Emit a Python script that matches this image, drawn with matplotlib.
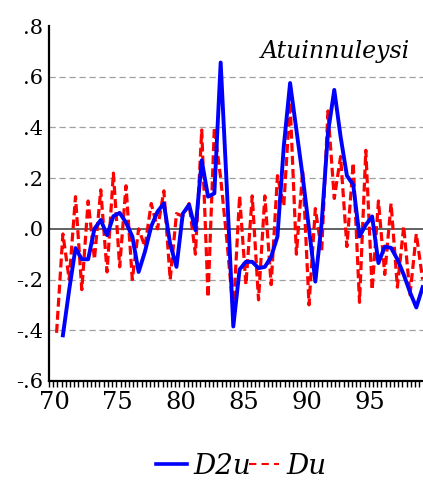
import matplotlib
matplotlib.use("Agg")
import matplotlib.pyplot as plt
from matplotlib.ticker import FixedLocator
from matplotlib.lines import Line2D

# half-yearly observations starting 1970
du_start = 1  # index of first Du observation (k), x = 70 + k/2
du = [-0.41, -0.02, -0.20, 0.127, -0.24, 0.11, -0.12, 0.154, -0.17, 0.22,
      -0.15, 0.17, -0.20, 0.00, -0.07, 0.10, 0.00, 0.15, -0.20, 0.06,
      0.05, 0.10, -0.10, 0.39, -0.27, 0.40, 0.20, -0.05, -0.33, 0.13,
      -0.22, 0.13, -0.28, 0.13, -0.22, 0.21, 0.09, 0.50, -0.10, 0.23,
      -0.30, 0.08, -0.09, 0.465, 0.12, 0.285, -0.07, 0.26, -0.29, 0.31,
      -0.24, 0.11, -0.18, 0.10, -0.23, 0.01, -0.26, -0.02, -0.20]
d2u_start = 2
d2u = [-0.42, -0.24, -0.076, -0.12, -0.12, 0.00, 0.035, -0.025, 0.05, 0.063,
       0.025, -0.03, -0.17, -0.09, 0.01, 0.068, 0.10, -0.06, -0.15, 0.06,
       0.095, -0.005, 0.27, 0.127, 0.14, 0.656, 0.15, -0.385, -0.16, -0.13,
       -0.13, -0.155, -0.15, -0.11, -0.03, 0.325, 0.575, 0.39, 0.206, 0.00,
       -0.208, 0.022, 0.378, 0.548, 0.364, 0.21, 0.174, -0.03, 0.016, 0.049,
       -0.135, -0.07, -0.075, -0.12, -0.18, -0.25, -0.31, -0.23]
year_labels = ["70", "75", "80", "85", "90", "95"]
year_vals = [70, 75, 80, 85, 90, 95]
y_ticks = [-0.6, -0.4, -0.2, 0.0, 0.2, 0.4, 0.6, 0.8]
y_labels = ["-.6", "-.4", "-.2", ".0", ".2", ".4", ".6", ".8"]
title = "Atuinnuleysi"

x_du = [70 + (du_start + i) / 2 for i in range(len(du))]
x_d2u = [70 + (d2u_start + i) / 2 for i in range(len(d2u))]

W, H = 423, 483
fig = plt.figure(figsize=(W / 100, H / 100), dpi=100)
ax = fig.add_axes([49 / W, (H - 381) / H, (W - 49) / W, 355 / H])

xmin, xmax = 69.9, 99.53
ax.set_xlim(xmin, xmax)
ax.set_ylim(-0.6, 0.8)

for yv in [-0.4, -0.2, 0.2, 0.4, 0.6]:
    ax.axhline(yv, color="#a0a0a0", lw=0.9, ls=(0, (5, 3)), zorder=1)
ax.axhline(0.0, color="#555555", lw=1.3, zorder=1)

ax.plot(x_du, du, color="#ff0000", lw=2.3, dashes=(2.8, 1.3), zorder=3)
ax.plot(x_d2u, d2u, color="#0000ff", lw=2.8, zorder=4)

for s in ["top", "right"]:
    ax.spines[s].set_visible(False)
for s in ["left", "bottom"]:
    ax.spines[s].set_linewidth(1.6)
    ax.spines[s].set_color("black")

ax.set_yticks(y_ticks)
ax.set_yticklabels(y_labels, family="DejaVu Serif", fontsize=15)
ax.tick_params(axis="y", length=0, pad=4)

ax.set_xticks([v + 0.35 for v in year_vals])
ax.set_xticklabels(year_labels, family="DejaVu Serif", fontsize=17.5)
ax.tick_params(axis="x", which="major", length=0, pad=7)
minor = []
v = xmin
while v <= xmax + 1e-9:
    minor.append(v)
    v += 1 / 3
ax.xaxis.set_minor_locator(FixedLocator(minor))
ax.tick_params(axis="x", which="minor", length=4, width=1, direction="out")

ax.text((335 - 49) / (W - 49), (381 - 58) / 355, title, transform=ax.transAxes,
        ha="center", va="baseline", family="DejaVu Serif", style="italic", fontsize=17)

handles = [Line2D([], [], color="#0000ff", lw=2.6),
           Line2D([], [], color="#ff0000", lw=1.5, dashes=(3.5, 2.5))]
fig.legend(handles, ["D2u", "Du"], loc="center", bbox_to_anchor=(0.57, (H - 466) / H),
           ncol=2, frameon=False, handlelength=1.1, handletextpad=0.25, columnspacing=-0.1,
           prop={"family": "DejaVu Serif", "style": "italic", "size": 20})

fig.savefig("out.png", dpi=100)
